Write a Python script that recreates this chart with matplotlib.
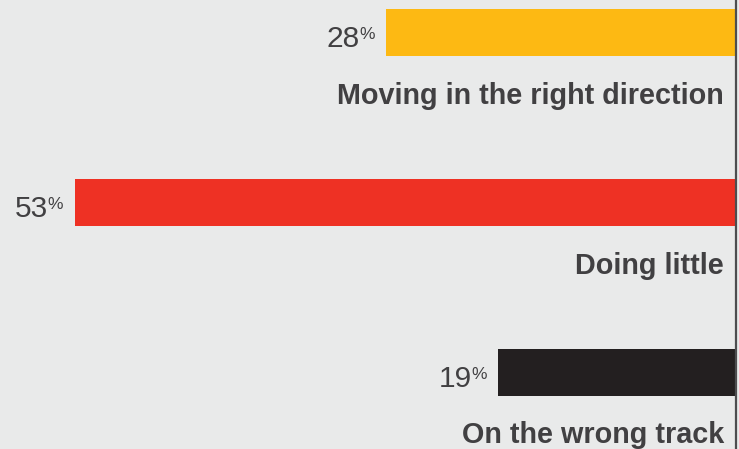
import matplotlib.pyplot as plt

# chart data
categories = ['Moving in the right direction', 'Doing little', 'On the wrong track']
shares = [28, 53, 19]
bar_colors = ['#fdb913', '#ee3124', '#231f20']

bg = '#e9eaea'
text_col = '#414042'

W, H, DPI = 739, 449, 100
fig = plt.figure(figsize=(W / DPI, H / DPI), dpi=DPI, facecolor=bg)
ax = fig.add_axes([0, 0, 1, 1], facecolor=bg)

# scale: ~12.45 px per percentage point, zero at x=735 px
px_per_pt = 12.45
ax.set_xlim(735 / px_per_pt, -4 / px_per_pt)
# rows 170 px apart, first bar centred at 32.5 px
row_px = 170
ax.set_ylim((H - 32.5) / row_px, -32.5 / row_px)

ypos = list(range(len(categories)))
ax.barh(ypos, shares, height=47 / row_px, color=bar_colors)

# baseline rule on the right
ax.axvline(-0.5 / px_per_pt, color='#4d4d4f', lw=1.6)

fam = ['Liberation Sans', 'DejaVu Sans']
for y, lab, v in zip(ypos, categories, shares):
    # number, then a small raised % sign
    x_num = v + 27 / px_per_pt
    y_num = y + 14.5 / row_px
    ax.text(x_num, y_num, str(v), ha='right', va='baseline',
            fontsize=21.5, color=text_col, family=fam)
    ax.annotate('%', xy=(x_num, y_num), xycoords='data',
                xytext=(-0.3, 6), textcoords='offset points',
                ha='left', va='baseline', fontsize=12.5,
                color=text_col, family=fam)
    # category label under the bar
    ax.text(11 / px_per_pt, y + 71 / row_px, lab, ha='right', va='baseline',
            fontsize=20.7, fontweight='bold', color=text_col, family=fam)

ax.set_axis_off()
fig.savefig('out.png', dpi=DPI, facecolor=bg)
